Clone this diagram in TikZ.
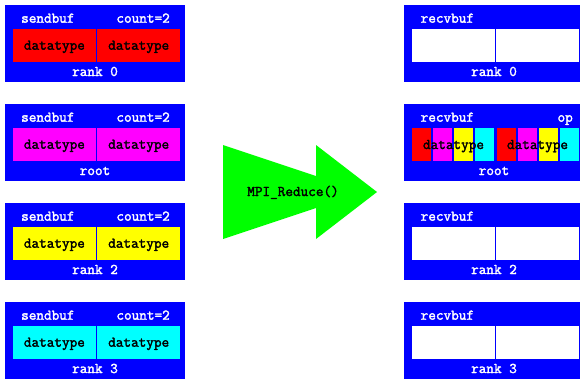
\documentclass[tikz,border=0pt]{standalone}
\usepackage{fontspec}
\newfontfamily\codefont[FakeBold=2]{Latin Modern Mono}
\definecolor{pblue}{RGB}{0,0,255}
\definecolor{pred}{RGB}{255,0,0}
\definecolor{pmagenta}{RGB}{255,0,255}
\definecolor{pyellow}{RGB}{255,255,0}
\definecolor{pcyan}{RGB}{0,255,255}
\definecolor{pgreen}{RGB}{0,255,0}
\tikzset{
  buf/.style={fill=pblue, draw=none},
  cell/.style={draw=none, inner sep=0pt, minimum width=83pt, minimum height=33pt},
  bar/.style={draw=none, inner sep=0pt, minimum width=19pt, minimum height=33pt},
  lbl/.style={font=\codefont\fontsize{14.8}{16}\selectfont, inner sep=0pt, anchor=base},
  wlbl/.style={lbl, text=white},
  bigarrow/.style={fill=pgreen, draw=none},
}
\begin{document}
\begin{tikzpicture}[x=1pt, y=-1pt]
\useasboundingbox (0,0) rectangle (580,378);
\clip (0,0) rectangle (580,378);

% send buffers, one per process
\foreach \i/\t/\c/\r in {0/5/pred/rank 0, 1/104/pmagenta/root, 2/203/pyellow/rank 2, 3/302/pcyan/rank 3}{
  \node[buf, inner sep=0pt, minimum width=180pt, minimum height=77pt, anchor=north west] (s\i) at (5,\t) {};
  \node[cell, fill=\c, anchor=north west] (s\i a) at (12.7,\t+24) {};
  \node[cell, fill=\c, anchor=north west] (s\i b) at (97,\t+24) {};
  \node[wlbl, anchor=base west] (s\i n) at (21,\t+17.7) {sendbuf};
  \node[wlbl, anchor=base east] (s\i k) at (170,\t+17.7) {count=2};
  \node[lbl] (s\i x) at ([yshift=-4pt]s\i a.center) {datatype};
  \node[lbl] (s\i y) at ([yshift=-4pt]s\i b.center) {datatype};
  \node[wlbl] (s\i r) at (95,\t+71) {\r};
}

% receive buffers
\foreach \i/\t/\r in {0/5/rank 0, 2/203/rank 2, 3/302/rank 3}{
  \node[buf, inner sep=0pt, minimum width=180pt, minimum height=77pt, anchor=north west] (v\i) at (404,\t) {};
  \node[cell, fill=white, anchor=north west] (v\i a) at (412,\t+24) {};
  \node[cell, fill=white, anchor=north west] (v\i b) at (496,\t+24) {};
  \node[wlbl, anchor=base west] (v\i n) at (420.5,\t+17.7) {recvbuf};
  \node[wlbl] (v\i r) at (494,\t+71) {\r};
}

% root receive buffer holding the reduced result
\node[buf, inner sep=0pt, minimum width=180pt, minimum height=77pt, anchor=north west] (v1) at (404,104) {};
\node[wlbl, anchor=base west] (v1n) at (420.5,121.7) {recvbuf};
\node[wlbl, anchor=base east] (v1op) at (573,121.7) {op};
\foreach \x/\c [count=\k] in {412/pred, 433/pmagenta, 454/pyellow, 475/pcyan, 497/pred, 518/pmagenta, 539/pyellow, 560/pcyan}{
  \node[bar, fill=\c, anchor=north west] (bar\k) at (\x,128) {};
}
\node[lbl] (v1x) at (453.5,149) {datatype};
\node[lbl] (v1y) at (537.5,149) {datatype};
\node[wlbl] (v1r) at (494,175) {root};

% reduction arrow
\fill[bigarrow] (223,145) -- (316,176) -- (316,145) -- (377,192) -- (316,239) -- (316,208) -- (223,239) -- cycle;
\node[lbl] (call) at (293,196) {MPI\_Reduce()};
\end{tikzpicture}
\end{document}
